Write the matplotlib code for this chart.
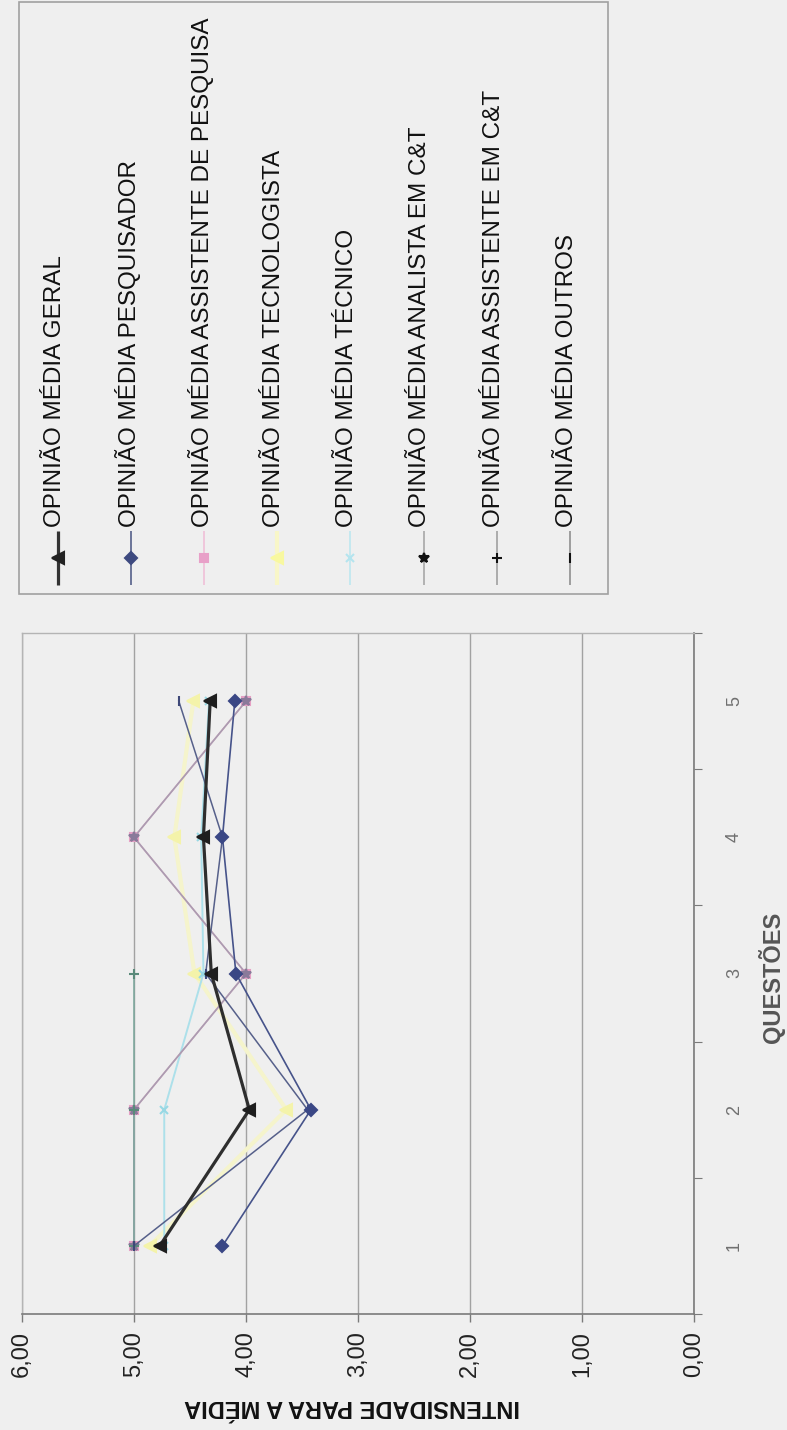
import numpy as np
import matplotlib
matplotlib.use('Agg')
import matplotlib.pyplot as plt
from matplotlib.patches import Rectangle

plt.rcParams['font.family'] = ['Liberation Sans', 'DejaVu Sans']

# dados (opinião média por questão)
questoes = [1, 2, 3, 4, 5]
geral = [4.77, 3.97, 4.31, 4.38, 4.32]
pesquisador = [4.21, 3.42, 4.09, 4.21, 4.10]
assist_pesquisa = [5.00, 5.00, 4.00, 5.00, 4.00]
tecnologista = [4.86, 3.64, 4.46, 4.64, 4.47]
tecnico = [4.73, 4.73, 4.38, 4.40, 4.33]
analista = [5.00, 5.00, 4.00, 5.00, 4.00]
assist_ct = [5.00, 5.00, 5.00, np.nan, np.nan]
outros = [5.00, 3.45, 4.36, 4.21, 4.60]

nomes = ['OPINIÃO MÉDIA GERAL', 'OPINIÃO MÉDIA PESQUISADOR',
         'OPINIÃO MÉDIA ASSISTENTE DE PESQUISA', 'OPINIÃO MÉDIA TECNOLOGISTA',
         'OPINIÃO MÉDIA TÉCNICO', 'OPINIÃO MÉDIA ANALISTA EM C&T',
         'OPINIÃO MÉDIA ASSISTENTE EM C&T', 'OPINIÃO MÉDIA OUTROS']
series = [geral, pesquisador, assist_pesquisa, tecnologista,
          tecnico, analista, assist_ct, outros]

valores_eixo = [6, 5, 4, 3, 2, 1, 0]

# estilo de cada série: cor da linha, largura, marcador, cor do marcador, tamanho
estilos = [
    ('#2e2e2e', 2.3, '<', '#1e1e1e', 9),
    ('#46538a', 1.2, 'D', '#3a4785', 6),
    ('#d2a2b6', 1.2, 's', '#e6a0c4', 6),
    ('#f5f4cc', 3.0, '<', '#f4f3aa', 9),
    ('#ace0ea', 1.4, 'x', '#98d8e4', 6),
    ('#aa9cb2', 1.1, '*', '#8a7a9a', 7),
    ('#7aa89c', 1.1, '+', '#5a8a7a', 7),
    ('#56608a', 1.1, '|', '#3e4878', 7),
]
# cores usadas na legenda (linha, marcador)
estilos_leg = [
    ('#333333', '#222222'),
    ('#55608a', '#3e4a80'),
    ('#f0c0d8', '#e8a0c8'),
    ('#f8f6c8', '#f8f8a0'),
    ('#c4e8f0', '#b4e4ee'),
    ('#a8a8a8', '#111111'),
    ('#a0a0a0', '#111111'),
    ('#909090', '#111111'),
]

fundo = '#efefef'
fig = plt.figure(figsize=(7.87, 14.30), dpi=100, facecolor=fundo)

# camada em pixels para a legenda e os títulos
lax = fig.add_axes([0, 0, 1, 1], zorder=0)
lax.set_xlim(0, 787)
lax.set_ylim(1430, 0)
lax.axis('off')

lax.add_patch(Rectangle((19, 2), 589, 592, fill=False, edgecolor='#a0a0a0', lw=1.2))
for i, nome in enumerate(nomes):
    x = 58 + 73.1 * i
    cl, cm = estilos_leg[i]
    _, lw, mk, _, ms = estilos[i]
    lax.plot([x, x], [531, 585], color=cl, lw=max(lw, 1.2), solid_capstyle='butt')
    lax.plot([x], [558], marker=mk, color=cm, ms=ms, mew=1.5, mec=cm)
    lax.text(x - 3, 527, nome, rotation=90, ha='center', va='bottom',
             fontsize=17.5, color='#111111')

# gráfico girado: valores na horizontal, questões na vertical
ax = fig.add_axes([22 / 787, 1 - 1314 / 1430, 672 / 787, 681 / 1430], zorder=1)
ax.set_facecolor(fundo)

ordem = [3, 4, 2, 5, 6, 7, 1, 0]
for i in ordem:
    cl, lw, mk, cm, ms = estilos[i]
    ax.plot(series[i], questoes, color=cl, lw=lw, marker=mk, ms=ms,
            mfc=cm, mec=cm, mew=1.5, zorder=3 + (5 if i == 0 else 0))

ax.set_xlim(6, 0)
ax.set_ylim(0.5, 5.5)

ax.set_xticks(valores_eixo)
ax.set_xticklabels([f'{v:.2f}'.replace('.', ',') for v in valores_eixo],
                   rotation=90, fontsize=17, color='#222222')
ax.tick_params(axis='x', direction='out', length=6, width=1, color='#7a7a7a', pad=6)
ax.grid(axis='x', color='#a2a2a2', lw=1)
ax.set_axisbelow(True)

ax.yaxis.tick_right()
ax.set_yticks(np.arange(0.5, 6.0, 1.0))
ax.set_yticklabels([])
ax.set_yticks(questoes, minor=True)
ax.set_yticklabels([str(q) for q in questoes], minor=True, rotation=90,
                   fontsize=13, color='#707070', va='center')
ax.tick_params(axis='y', which='major', direction='out', length=6, color='#7a7a7a')
ax.tick_params(axis='y', which='minor', length=0, pad=23)

for lado in ['top', 'left']:
    ax.spines[lado].set_color('#b4b4b4')
    ax.spines[lado].set_linewidth(1)
for lado in ['bottom', 'right']:
    ax.spines[lado].set_color('#7a7a7a')
    ax.spines[lado].set_linewidth(1.2)

lax.text(771, 977, 'QUESTÕES', rotation=90, ha='center', va='center',
         fontsize=17, fontweight='bold', color='#555555')
lax.text(352, 1407, 'INTENSIDADE PARA A MÉDIA', rotation=180, ha='center',
         va='center', fontsize=17, fontweight='bold', color='#111111')

fig.savefig('out.png', dpi=100, facecolor=fundo)
